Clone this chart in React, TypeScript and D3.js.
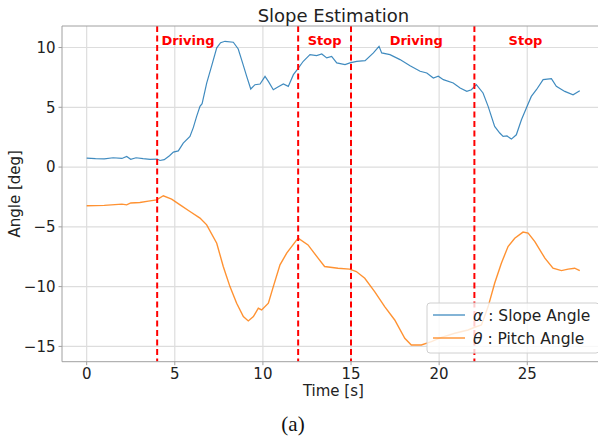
import React from "react";
import * as d3 from "d3";

const alphaT = [0, 0.5, 1, 1.5, 2, 2.27, 2.5, 2.8, 3.2, 3.6, 4, 4.16, 4.4, 4.7, 4.92, 5.2, 5.48, 5.86, 6.05, 6.24, 6.43, 6.55, 6.81, 7.1, 7.38, 7.6, 7.85, 8.32, 8.6, 8.85, 9.08, 9.31, 9.55, 9.84, 10.12, 10.31, 10.59, 10.85, 11.16, 11.44, 11.73, 11.97, 12.29, 12.67, 13.05, 13.34, 13.62, 13.9, 14.19, 14.66, 14.94, 15.32, 15.8, 16.27, 16.59, 16.74, 17.21, 17.78, 18.35, 18.92, 19.3, 19.67, 19.95, 20.24, 20.8, 21.19, 21.57, 21.83, 22.11, 22.49, 22.78, 23.15, 23.44, 23.63, 23.85, 24.1, 24.38, 24.67, 24.95, 25.23, 25.52, 25.9, 26.37, 26.65, 27.13, 27.6, 27.98];
const alphaV = [0.75, 0.7, 0.68, 0.78, 0.72, 0.89, 0.65, 0.78, 0.7, 0.65, 0.67, 0.55, 0.62, 0.95, 1.25, 1.35, 2.0, 2.56, 3.3, 4.24, 5.08, 5.3, 7.03, 8.5, 9.97, 10.4, 10.52, 10.44, 9.88, 8.7, 7.59, 6.53, 6.89, 6.95, 7.59, 7.17, 6.47, 6.7, 6.95, 6.75, 7.73, 8.2, 8.85, 9.4, 9.32, 9.46, 9.13, 9.26, 8.71, 8.57, 8.71, 8.84, 8.9, 9.55, 10.1, 9.55, 9.4, 8.99, 8.48, 8.01, 7.87, 7.45, 7.6, 7.31, 7.03, 6.61, 6.33, 6.47, 6.89, 6.2, 5.08, 3.4, 2.85, 2.56, 2.6, 2.34, 2.7, 3.96, 4.94, 5.91, 6.47, 7.31, 7.39, 6.75, 6.33, 6.05, 6.39];

const thetaT = [0, 1, 2, 2.27, 2.5, 3.02, 3.5, 3.97, 4.35, 4.82, 5.3, 5.86, 6.43, 6.81, 7.38, 7.75, 8.13, 8.51, 8.89, 9.17, 9.46, 9.74, 9.93, 10.31, 10.59, 10.97, 11.35, 11.92, 12.0, 12.56, 13.13, 13.5, 14.26, 14.92, 15.3, 15.78, 16.34, 16.91, 17.48, 18.05, 18.42, 18.99, 19.56, 20.13, 20.89, 21.64, 22.02, 22.4, 22.78, 23.15, 23.53, 23.91, 24.29, 24.76, 25.05, 25.43, 26.0, 26.46, 26.94, 27.32, 27.69, 27.98];
const thetaV = [-3.24, -3.2, -3.1, -3.16, -3.0, -2.96, -2.85, -2.74, -2.4, -2.68, -3.16, -3.72, -4.27, -4.83, -6.37, -8.32, -10.0, -11.39, -12.51, -12.87, -12.51, -11.81, -11.95, -11.39, -10.0, -8.18, -7.2, -6.09, -5.95, -6.51, -7.62, -8.32, -8.46, -8.54, -8.74, -9.3, -10.42, -11.67, -12.79, -14.32, -14.88, -14.88, -14.6, -14.24, -13.9, -13.63, -13.4, -13.2, -11.67, -9.72, -8.04, -6.65, -5.95, -5.44, -5.53, -6.23, -7.62, -8.46, -8.66, -8.54, -8.46, -8.66];

const xTicks = [0, 5, 10, 15, 20, 25];
const yTicks = [-15, -10, -5, 0, 5, 10];
const phaseLines = [4, 12, 15, 22];
const phaseLabels = ["Driving", "Stop", "Driving", "Stop"];
const phaseLabelX = [5.75, 13.5, 18.7, 24.9];

const W = 598, H = 437;
const L = 62, R = 604.8, T = 26, B = 361.7;
const FONT = "DejaVu Sans, sans-serif";

export default function App() {
  const x = d3.scaleLinear().domain([-1.4, 29.4]).range([L, R]);
  const y = d3.scaleLinear().domain([-16.28, 11.8]).range([B, T]);
  const line = d3.line<[number, number]>().x(d => x(d[0])).y(d => y(d[1]));
  const aPts = alphaT.map((t, i) => [t, alphaV[i]] as [number, number]);
  const tPts = thetaT.map((t, i) => [t, thetaV[i]] as [number, number]);
  const spine = "#a0a0a0";
  const grid = "#dddddd";
  const fmt = (t: number) => (t < 0 ? "\u2212" + Math.abs(t) : String(t));
  return (
    <svg width={W} height={H} style={{ position: "fixed", left: 0, top: 0, background: "#fff" }} fontFamily={FONT}>
      <defs>
        <clipPath id="pa"><rect x={L} y={T} width={R - L} height={B - T} /></clipPath>
      </defs>
      <rect x={0} y={0} width={W} height={H} fill="#fff" />
      {xTicks.map(t => (
        <line key={"gx" + t} x1={x(t)} x2={x(t)} y1={T} y2={B} stroke={grid} strokeWidth={1.2} />
      ))}
      {yTicks.map(t => (
        <line key={"gy" + t} x1={L} x2={R} y1={y(t)} y2={y(t)} stroke={grid} strokeWidth={1.2} />
      ))}
      <g clipPath="url(#pa)">
        <path d={line(tPts) || ""} fill="none" stroke="#ff7f0e" strokeOpacity={0.85} strokeWidth={1.4} />
        <path d={line(aPts) || ""} fill="none" stroke="#1f77b4" strokeOpacity={0.85} strokeWidth={1.2} />
        {phaseLines.map(t => (
          <line key={"p" + t} x1={x(t)} x2={x(t)} y1={T} y2={B} stroke="#ff0000" strokeWidth={2} strokeDasharray="6,3.5" />
        ))}
      </g>
      {phaseLabels.map((s, i) => (
        <text key={"pl" + i} x={x(phaseLabelX[i])} y={44.5} textAnchor="middle" fontSize={13} fontWeight="bold" fill="#ff0000">{s}</text>
      ))}
      <line x1={L} x2={L} y1={T} y2={B} stroke={spine} strokeWidth={1} />
      <line x1={L} x2={R} y1={B} y2={B} stroke={spine} strokeWidth={1} />
      <line x1={L} x2={R} y1={T} y2={T} stroke={spine} strokeWidth={1} />
      {xTicks.map(t => (
        <g key={"xt" + t}>
          <line x1={x(t)} x2={x(t)} y1={B} y2={B + 3.5} stroke={spine} />
          <text x={x(t)} y={B + 17} textAnchor="middle" fontSize={15} fill="#222">{fmt(t)}</text>
        </g>
      ))}
      {yTicks.map(t => (
        <g key={"yt" + t}>
          <line x1={L - 3.5} x2={L} y1={y(t)} y2={y(t)} stroke={spine} />
          <text x={L - 6.5} y={y(t)} dy="0.36em" textAnchor="end" fontSize={15} fill="#222">{fmt(t)}</text>
        </g>
      ))}
      <text x={(L + R) / 2} y={22} textAnchor="middle" fontSize={18} fill="#222">Slope Estimation</text>
      <text x={(L + R) / 2} y={396} textAnchor="middle" fontSize={15} fill="#222">Time [s]</text>
      <text transform={`translate(20,${(T + B) / 2}) rotate(-90)`} textAnchor="middle" fontSize={15} fill="#222">Angle [deg]</text>
      <g>
        <rect x={427} y={303} width={172} height={50} rx={3} fill="#fff" fillOpacity={0.8} stroke="#d0d0d0" />
        <line x1={433} x2={465} y1={315} y2={315} stroke="#1f77b4" strokeWidth={1.3} strokeOpacity={0.85} />
        <line x1={433} x2={465} y1={338} y2={338} stroke="#ff7f0e" strokeWidth={2} strokeOpacity={0.6} />
        <text x={473} y={315} dy="0.36em" fontSize={15.5} fill="#222"><tspan fontStyle="italic">α</tspan> : Slope Angle</text>
        <text x={473} y={338} dy="0.36em" fontSize={15.5} fill="#222"><tspan fontStyle="italic">θ</tspan> : Pitch Angle</text>
      </g>
      <text x={293} y={431} textAnchor="middle" fontSize={21} fontFamily="Liberation Serif, serif" fill="#111">(a)</text>
    </svg>
  );
}
